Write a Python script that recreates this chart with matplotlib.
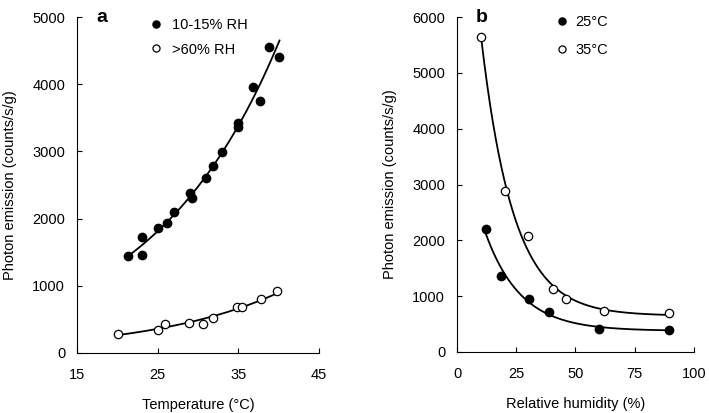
import numpy as np
import matplotlib
matplotlib.use("Agg")
import matplotlib.pyplot as plt

plt.rcParams['font.family'] = ['Liberation Sans', 'DejaVu Sans']
plt.rcParams['font.size'] = 10.5

# panel a: temperature vs photon emission
temp_dry = [21.3, 23.1, 23.1, 25.1, 26.2, 27.0, 29.0, 29.2, 31.0, 31.9, 33.0,
            34.9, 34.9, 36.8, 37.7, 38.8, 40.0]
emis_dry = [1443, 1720, 1458, 1855, 1930, 2098, 2386, 2312, 2609, 2783, 2986,
            3427, 3358, 3953, 3750, 4548, 4410]
temp_wet = [20.1, 25.1, 25.9, 28.9, 30.6, 31.9, 34.8, 35.4, 37.8, 39.8]
emis_wet = [278, 342, 432, 451, 432, 516, 680, 690, 804, 927]

# panel b: relative humidity vs photon emission
rh_25 = [12.2, 18.7, 30.2, 38.8, 60.1, 89.6]
emis_25 = [2209, 1356, 949, 716, 418, 394]
rh_35 = [10.3, 20.1, 30.0, 40.6, 46.1, 62.2, 89.6]
emis_35 = [5637, 2889, 2078, 1134, 944, 740, 704]


def exp_fit(x, y, x_end):
    # y = a * exp(b x), fit on log scale
    b, ln_a = np.polyfit(x, np.log(y), 1)
    xs = np.linspace(min(x), x_end, 200)
    return xs, np.exp(ln_a) * np.exp(b * xs)


def decay_fit(x, y):
    # y = c + a * exp(-k x), grid search on k
    x = np.asarray(x, float)
    y = np.asarray(y, float)
    w = 1.0 / np.sqrt(y)
    best = None
    for k in np.linspace(0.01, 0.3, 600):
        A = np.column_stack([np.exp(-k * x), np.ones_like(x)])
        coef = np.linalg.lstsq(A * w[:, None], y * w, rcond=None)[0]
        err = np.sum(((A @ coef - y) * w) ** 2)
        if best is None or err < best[0]:
            best = (err, k, coef)
    _, k, (a, c) = best
    xs = np.linspace(x.min(), x.max(), 200)
    return xs, c + a * np.exp(-k * xs)


fig = plt.figure(figsize=(7.09, 4.13), dpi=100)
ax1 = fig.add_axes([0.1086, 0.1453, 0.3414, 0.8135])
ax2 = fig.add_axes([0.6446, 0.1477, 0.3342, 0.8111])

for ax in (ax1, ax2):
    ax.spines['top'].set_visible(False)
    ax.spines['right'].set_visible(False)
    ax.tick_params(direction='in', length=3.5, width=0.8, labelsize=10.5)
    ax.tick_params(axis='x', pad=11)
    ax.tick_params(axis='y', pad=8.5)

# a
xs, ys = exp_fit(temp_dry, emis_dry, 40.1)
ax1.plot(xs, ys, color='black', lw=1.3)
xs, ys = exp_fit(temp_wet, emis_wet, 39.8)
ax1.plot(xs, ys, color='black', lw=1.3)
ax1.plot(temp_dry, emis_dry, 'o', color='black', ms=6, label='10-15% RH')
ax1.plot(temp_wet, emis_wet, 'o', mfc='white', mec='black', mew=0.9, ms=6,
         label='>60% RH')
ax1.set_xlim(15, 45)
ax1.set_ylim(0, 5000)
ax1.set_xticks([15, 25, 35, 45])
ax1.set_yticks([0, 1000, 2000, 3000, 4000, 5000])
ax1.set_xlabel('Temperature (°C)', labelpad=11)
ax1.set_ylabel('Photon emission (counts/s/g)', labelpad=11)
ax1.text(0.08, 1.0, 'a', transform=ax1.transAxes, fontsize=14,
         fontweight='bold', va='center')
ax1.legend(loc='upper left', bbox_to_anchor=(0.241, 1.035), frameon=False,
           handletextpad=0.6, handlelength=1.0, labelspacing=0.7,
           markerscale=0.85)

# b
xs, ys = decay_fit(rh_35, emis_35)
ax2.plot(xs, ys, color='black', lw=1.3)
xs, ys = decay_fit(rh_25, emis_25)
ax2.plot(xs, ys, color='black', lw=1.3)
ax2.plot(rh_25, emis_25, 'o', color='black', ms=6, label='25°C')
ax2.plot(rh_35, emis_35, 'o', mfc='white', mec='black', mew=0.9, ms=6,
         label='35°C')
ax2.set_xlim(0, 100)
ax2.set_ylim(0, 6000)
ax2.set_xticks([0, 25, 50, 75, 100])
ax2.set_yticks([0, 1000, 2000, 3000, 4000, 5000, 6000])
ax2.set_xlabel('Relative humidity (%)', labelpad=11)
ax2.set_ylabel('Photon emission (counts/s/g)', labelpad=11)
ax2.text(0.08, 1.0, 'b', transform=ax2.transAxes, fontsize=14,
         fontweight='bold', va='center')
ax2.legend(loc='upper left', bbox_to_anchor=(0.357, 1.045), frameon=False,
           handletextpad=0.4, handlelength=1.0, labelspacing=0.93,
           markerscale=0.85)

plt.savefig('out.png', dpi=100)
